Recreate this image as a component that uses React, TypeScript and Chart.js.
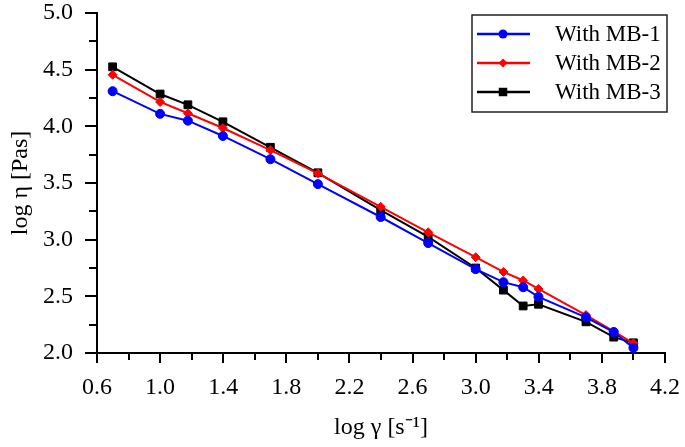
import React, { useEffect, useRef } from 'react';
import { Chart, registerables } from 'chart.js';

Chart.register(...registerables);

// log shear rate values
const xValues = [0.699, 1.0, 1.176, 1.398, 1.699, 2.0, 2.398, 2.699, 3.0, 3.176, 3.301, 3.398, 3.699, 3.875, 4.0];
// log viscosity series
const mb1 = [4.31, 4.11, 4.05, 3.915, 3.71, 3.49, 3.2, 2.97, 2.74, 2.625, 2.58, 2.495, 2.315, 2.185, 2.045];
const mb2 = [4.455, 4.215, 4.115, 3.985, 3.79, 3.585, 3.29, 3.065, 2.845, 2.715, 2.64, 2.565, 2.335, 2.19, 2.085];
const mb3 = [4.525, 4.285, 4.19, 4.04, 3.815, 3.59, 3.26, 3.025, 2.75, 2.555, 2.415, 2.43, 2.275, 2.14, 2.09];

const seriesLabels = ['With MB-1', 'With MB-2', 'With MB-3'];
const seriesColors = ['#0000ff', '#ff0000', '#000000'];
const seriesMarkers = ['circle', 'rectRot', 'rect'];

const xTickLabels = [0.6, 1.0, 1.4, 1.8, 2.2, 2.6, 3.0, 3.4, 3.8, 4.2];
const xMinorTicks = [0.8, 1.2, 1.6, 2.0, 2.4, 2.8, 3.2, 3.6, 4.0];
const yTickLabels = [2.0, 2.5, 3.0, 3.5, 4.0, 4.5, 5.0];
const yMinorTicks = [2.25, 2.75, 3.25, 3.75, 4.25, 4.75];

const xTitle = 'log γ [s⁻¹]';
const yTitle = 'log η [Pas]';

const FONT = "'Liberation Serif', 'Times New Roman', Times, serif";

function drawMarker(ctx: CanvasRenderingContext2D, style: string, x: number, y: number, r: number) {
  ctx.beginPath();
  if (style === 'circle') {
    ctx.arc(x, y, r, 0, Math.PI * 2);
  } else if (style === 'rectRot') {
    ctx.moveTo(x - r, y);
    ctx.lineTo(x, y - r);
    ctx.lineTo(x + r, y);
    ctx.lineTo(x, y + r);
    ctx.closePath();
  } else {
    const s = r * Math.SQRT1_2;
    ctx.rect(x - s, y - s, 2 * s, 2 * s);
  }
  ctx.fill();
}

const tickPlugin = {
  id: 'tickMarks',
  afterDraw(chart: any) {
    const { ctx, chartArea, scales } = chart;
    const xs = scales.x;
    const ys = scales.y;
    ctx.save();
    ctx.strokeStyle = '#000';
    ctx.lineWidth = 2;
    ctx.beginPath();
    xTickLabels.forEach((v) => {
      const px = Math.round(xs.getPixelForValue(v));
      ctx.moveTo(px, chartArea.bottom);
      ctx.lineTo(px, chartArea.bottom + 10);
    });
    xMinorTicks.forEach((v) => {
      const px = Math.round(xs.getPixelForValue(v));
      ctx.moveTo(px, chartArea.bottom);
      ctx.lineTo(px, chartArea.bottom + 7);
    });
    yTickLabels.forEach((v) => {
      const py = Math.round(ys.getPixelForValue(v));
      ctx.moveTo(chartArea.left, py);
      ctx.lineTo(chartArea.left - 12, py);
    });
    yMinorTicks.forEach((v) => {
      const py = Math.round(ys.getPixelForValue(v));
      ctx.moveTo(chartArea.left, py);
      ctx.lineTo(chartArea.left - 8, py);
    });
    ctx.stroke();
    ctx.restore();
  },
};

const legendPlugin = {
  id: 'boxLegend',
  afterDraw(chart: any) {
    const { ctx } = chart;
    const left = 472;
    const top = 15;
    const right = 667;
    const bottom = 112;
    ctx.save();
    ctx.strokeStyle = '#222';
    ctx.lineWidth = 1.5;
    ctx.strokeRect(left, top, right - left, bottom - top);
    const rows = [34, 63, 92];
    chart.data.datasets.forEach((ds: any, i: number) => {
      const y = rows[i];
      ctx.strokeStyle = ds.borderColor;
      ctx.lineWidth = 2.5;
      ctx.beginPath();
      ctx.moveTo(477, y);
      ctx.lineTo(530, y);
      ctx.stroke();
      ctx.fillStyle = ds.borderColor;
      drawMarker(ctx, ds.pointStyle, 503, y, ds.pointStyle === 'rect' ? 6 : 4.5);
      ctx.fillStyle = '#000';
      ctx.font = `23px ${FONT}`;
      ctx.textAlign = 'left';
      ctx.textBaseline = 'middle';
      ctx.fillText(ds.label, 555, y + 1);
    });
    ctx.restore();
  },
};

export default function App() {
  const canvasRef = useRef<HTMLCanvasElement | null>(null);

  useEffect(() => {
    let chart: any = null;
    let cancelled = false;
    const build = () => {
      if (cancelled || !canvasRef.current) return;
      const series = [mb1, mb2, mb3];
      chart = new Chart(canvasRef.current, {
        type: 'line',
        data: {
          datasets: series.map((vals, i) => ({
            label: seriesLabels[i],
            data: xValues.map((x, j) => ({ x, y: vals[j] })),
            borderColor: seriesColors[i],
            backgroundColor: seriesColors[i],
            pointBackgroundColor: seriesColors[i],
            pointBorderColor: seriesColors[i],
            pointStyle: seriesMarkers[i],
            pointRadius: seriesMarkers[i] === 'rect' ? 5.5 : 4.5,
            pointBorderWidth: 1,
            borderWidth: 2,
            tension: 0,
            fill: false,
          })),
        },
        options: {
          animation: false,
          responsive: false,
          devicePixelRatio: 1,
          layout: { padding: { top: 13, right: 20, bottom: 0, left: 0 } },
          plugins: {
            legend: { display: false },
            tooltip: { enabled: false },
          },
          scales: {
            x: {
              type: 'linear',
              min: 0.6,
              max: 4.2,
              afterBuildTicks: (s: any) => {
                s.ticks = xTickLabels.map((v) => ({ value: v }));
              },
              afterFit: (s: any) => {
                s.height = 94;
                s.paddingLeft = 0;
                s.paddingRight = 0;
              },
              ticks: {
                callback: (v: any) => Number(v).toFixed(1),
                font: { family: FONT, size: 24 },
                color: '#000',
                padding: 20,
                maxRotation: 0,
                autoSkip: false,
              },
              grid: { display: false, drawTicks: false },
              border: { display: true, color: '#000', width: 2 },
              title: {
                display: true,
                text: xTitle,
                font: { family: FONT, size: 24 },
                color: '#000',
                padding: { top: 0, bottom: 5 },
              },
            },
            y: {
              type: 'linear',
              min: 2.0,
              max: 5.0,
              afterBuildTicks: (s: any) => {
                s.ticks = yTickLabels.map((v) => ({ value: v }));
              },
              afterFit: (s: any) => {
                s.width = 97;
                s.paddingTop = 0;
                s.paddingBottom = 0;
              },
              ticks: {
                callback: (v: any) => Number(v).toFixed(1),
                font: { family: FONT, size: 24 },
                color: '#000',
                padding: 24,
                autoSkip: false,
              },
              grid: { display: false, drawTicks: false },
              border: { display: true, color: '#000', width: 2 },
              title: {
                display: true,
                text: yTitle,
                font: { family: FONT, size: 24 },
                color: '#000',
                padding: { top: 6, bottom: 0 },
              },
            },
          },
        },
        plugins: [tickPlugin, legendPlugin],
      } as any);
    };
    const fontsApi: any = (document as any).fonts;
    if (fontsApi && fontsApi.load) {
      Promise.all([
        fontsApi.load("24px 'Liberation Serif'", 'log η γ 0.6 With MB-1'),
        fontsApi.load("23px 'Liberation Serif'", 'With MB-1'),
      ])
        .catch(() => null)
        .then(() => build());
    } else {
      build();
    }
    return () => {
      cancelled = true;
      if (chart) chart.destroy();
    };
  }, []);

  return (
    <div style={{ position: 'fixed', left: 0, top: 0, width: 685, height: 447, background: '#fff' }}>
      <span style={{ position: 'absolute', left: -9999, top: 0, fontFamily: FONT, fontSize: 24 }}>log η γ 0.6</span>
      <canvas ref={canvasRef} width={685} height={447} style={{ width: 685, height: 447, display: 'block' }} />
    </div>
  );
}
